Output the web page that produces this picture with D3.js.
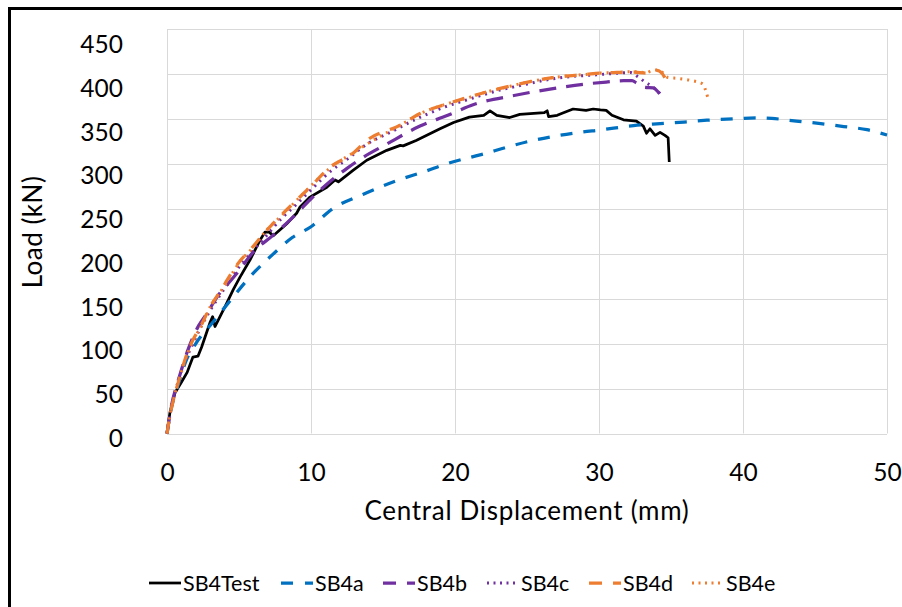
<!DOCTYPE html>
<html>
<head>
<meta charset="utf-8">
<script src="https://cdn.jsdelivr.net/npm/d3@7"></script>
<style>
  html, body { margin: 0; padding: 0; background: #fff; }
  svg { display: block; font-family: Lato, "Open Sans", sans-serif; }
</style>
</head>
<body>
<svg id="chart" width="902" height="607"></svg>
<script>
// ---------- data ----------
const seriesNames = ["SB4Test", "SB4a", "SB4b", "SB4c", "SB4d", "SB4e"];
const xTicks = [0, 10, 20, 30, 40, 50];
const yTicks = [0, 50, 100, 150, 200, 250, 300, 350, 400, 450];

const sb4Test = [[0,0],[0.2,23],[0.55,45],[1.0,57],[1.4,68],[1.8,85],[2.15,86],[2.4,96],[3.0,124],[3.17,130],[3.33,119],[3.68,130],[4.15,145],[4.6,160],[5.07,174],[5.76,193],[6.46,215],[6.8,224],[7.1,224],[7.38,220],[8.3,233],[9.0,245],[9.24,252],[9.93,263],[11.1,274],[11.67,282],[11.9,280],[12.94,293],[13.87,304],[15.26,315],[16.2,320.5],[16.4,320],[17.3,326],[18.96,339],[19.9,346],[21.0,352],[22.0,354],[22.43,359],[22.9,354],[23.8,351.5],[24.5,355],[26.2,357],[26.4,359],[26.5,352.5],[27.1,354],[27.4,356],[28.2,361],[29.1,359.5],[29.6,361],[30.1,360],[30.5,359.5],[30.9,354],[31.7,349],[32.6,347.6],[33.08,342],[33.3,334],[33.54,339],[33.9,331.7],[34.24,335],[34.58,331.7],[34.8,329],[34.88,302]];
const sb4a = [[0,0],[0.3,28],[0.7,50],[1.3,80],[2.0,100],[3.2,124],[4.5,150],[5.8,175],[7.4,200],[8.7,218],[10,230],[11.5,250],[13.6,266],[15.9,281],[18,292],[19.4,300],[21,307],[22,311],[23.6,318.5],[25.4,326],[27,331],[28.9,335.5],[30,337.5],[32.4,342.5],[34,344.5],[35.9,346.5],[37.5,348.5],[39.3,350],[41,351],[42,350.5],[43.7,347.6],[45.4,344.7],[47,341.5],[48.6,338],[50,332]];
const sb4b = [[0,0],[0.3,30],[0.8,60],[1.5,95],[2.2,120],[2.75,133],[3.57,154],[4.15,165],[4.84,178],[6.0,202],[7.4,221],[8.77,241],[9.93,260],[11.3,280],[12.5,295],[13.6,307],[15.26,322],[17.57,342],[19.5,354],[21.3,366],[24.1,376],[26.7,383.5],[28.9,388.5],[30.5,391],[31.7,392.5],[32.3,392.5],[32.6,390],[33.2,385],[33.77,384.5],[34.1,380],[34.3,376]];
const sb4c = [[0,0],[0.3,28],[0.6,48],[1.2,78],[1.8,100],[2.4,120],[3.0,137],[3.6,152],[4.2,166],[5.0,185],[5.8,200],[6.9,220],[8.0,240],[8.8,252],[10.0,271],[11.3,291],[12.5,305],[13.9,322],[15.5,335],[17.6,352],[19.6,365],[21.0,372],[22.2,378],[23.1,382],[24.5,387],[26.6,394],[28.0,397],[29.8,399],[31.0,400.5],[32.2,401.5],[32.7,397],[33.2,391],[33.6,387],[34.0,382],[34.3,377]];
const sb4d = [[0,0],[0.2,20],[0.44,37],[0.8,58],[1.37,88],[1.83,105],[2.3,118],[3.0,141],[3.9,163],[4.15,170],[5.07,192],[5.76,204],[6.92,226],[8.0,244],[8.77,256],[9.93,274],[11.3,296],[12.94,312],[13.87,326],[16.2,343],[17.57,356],[19.5,367],[22.2,380],[24.5,389],[26.8,396],[29.1,399.5],[30.1,401],[31.0,401.5],[32.4,402],[33.3,401],[34.0,404],[34.3,402],[34.8,389]];
const sb4e = [[0,0],[0.2,20],[0.45,38],[0.8,58],[1.4,88],[1.9,106],[2.4,120],[3.0,141],[3.9,162],[4.6,180],[5.1,192],[5.8,204],[6.9,226],[8.0,243],[8.8,256],[9.9,274],[11.3,295],[12.9,312],[14.3,326],[16.2,343],[17.6,356],[19.5,367],[21.0,374],[22.2,380],[23.5,385],[24.5,389],[25.7,393],[26.8,396],[28.0,398],[29.1,399.5],[30.1,401],[31.0,401.5],[32.4,402.5],[33.3,401.5],[33.8,404.5],[34.2,404],[34.8,396],[35.5,395],[36.3,393],[37.2,389],[37.4,382],[37.55,374]];
const seriesData = [sb4Test, sb4a, sb4b, sb4c, sb4d, sb4e];

// ---------- styles ----------
const styles = [
  { color: "#000000", width: 2.75, dash: null,    legendDash: null,    curve: d3.curveLinear },
  { color: "#0070C0", width: 3.25, dash: "12,11", legendDash: "12,12", curve: d3.curveMonotoneX },
  { color: "#7030A0", width: 3.25, dash: "17,10", legendDash: "13,11", curve: d3.curveMonotoneX },
  { color: "#7030A0", width: 3,    dash: "2,5",   legendDash: "2,4.5", curve: d3.curveMonotoneX },
  { color: "#ED7D31", width: 3.25, dash: "12,11", legendDash: "13,11", curve: d3.curveMonotoneX },
  { color: "#ED7D31", width: 3,    dash: "2,5",   legendDash: "2,4.5", curve: d3.curveMonotoneX }
];

// ---------- layout ----------
const svg = d3.select("#chart");
const plot = { left: 167, right: 887, top: 29, bottom: 433.5 };

const x = d3.scaleLinear().domain([0, 50]).range([plot.left, plot.right]);
const y = d3.scaleLinear().domain([0, 450]).range([plot.bottom, plot.top]);
// the reference's value labels sit on a slightly tighter spacing than the gridlines
const yLabel = d3.scaleLinear().domain([0, 450]).range([437.5, 43.7]);

// outer frame
svg.append("rect")
  .attr("x", 9.5).attr("y", 8.5).attr("width", 1200).attr("height", 1200)
  .attr("fill", "none").attr("stroke", "#000").attr("stroke-width", 3);

// gridlines
const grid = svg.append("g").attr("stroke", "#d9d9d9").attr("stroke-width", 1);
grid.selectAll("line.h").data(yTicks).join("line")
  .attr("x1", plot.left).attr("x2", plot.right)
  .attr("y1", d => Math.round(y(d)) + 0.5).attr("y2", d => Math.round(y(d)) + 0.5);
grid.selectAll("line.v").data(xTicks).join("line")
  .attr("y1", plot.top).attr("y2", plot.bottom)
  .attr("x1", d => Math.round(x(d)) + 0.5).attr("x2", d => Math.round(x(d)) + 0.5);

// axes labels via d3 axes
const yAxis = svg.append("g").attr("transform", `translate(${plot.left},0)`)
  .call(d3.axisLeft(yLabel).tickValues(yTicks).tickSize(0).tickPadding(44));
yAxis.select(".domain").remove();
yAxis.selectAll("text").attr("font-size", 24.5).attr("fill", "#000")
  .attr("font-family", "Lato, sans-serif").attr("dy", "0.36em");

const xAxis = svg.append("g").attr("transform", `translate(0,${plot.bottom})`)
  .call(d3.axisBottom(x).tickValues(xTicks).tickSize(0).tickPadding(30));
xAxis.select(".domain").remove();
xAxis.selectAll("text").attr("font-size", 24.5).attr("fill", "#000")
  .attr("font-family", "Lato, sans-serif");

// axis titles
svg.append("text").attr("x", (plot.left + plot.right) / 2).attr("y", 520)
  .attr("text-anchor", "middle").attr("font-size", 26).attr("letter-spacing", 0.7)
  .attr("fill", "#000")
  .text("Central Displacement (mm)");
svg.append("text").attr("transform", "translate(42,232) rotate(-90)")
  .attr("text-anchor", "middle").attr("font-size", 26).attr("letter-spacing", 0.5)
  .attr("fill", "#000")
  .text("Load (kN)");

// series lines
const clip = svg.append("clipPath").attr("id", "clip").append("rect")
  .attr("x", plot.left - 2).attr("y", plot.top - 10)
  .attr("width", plot.right - plot.left + 4).attr("height", plot.bottom - plot.top + 12);
const lines = svg.append("g").attr("clip-path", "url(#clip)");
seriesData.forEach((data, i) => {
  const st = styles[i];
  const gen = d3.line().x(d => x(d[0])).y(d => y(d[1])).curve(st.curve);
  lines.append("path").datum(data)
    .attr("d", gen)
    .attr("fill", "none")
    .attr("stroke", st.color)
    .attr("stroke-width", st.width)
    .attr("stroke-linejoin", "round")
    .attr("stroke-dasharray", st.dash);
});

// legend
const legendX = [149, 281, 383, 487, 589, 692];
const legend = svg.append("g");
seriesNames.forEach((name, i) => {
  const st = styles[i];
  const g = legend.append("g").attr("transform", `translate(${legendX[i]},583)`);
  g.append("line").attr("x1", 0).attr("x2", 32).attr("y1", 0).attr("y2", 0)
    .attr("stroke", st.color).attr("stroke-width", st.width)
    .attr("stroke-dasharray", st.legendDash);
  g.append("text").attr("x", 34).attr("y", 7.5)
    .attr("font-size", 21.5).attr("fill", "#000").text(name);
});
</script>
</body>
</html>
